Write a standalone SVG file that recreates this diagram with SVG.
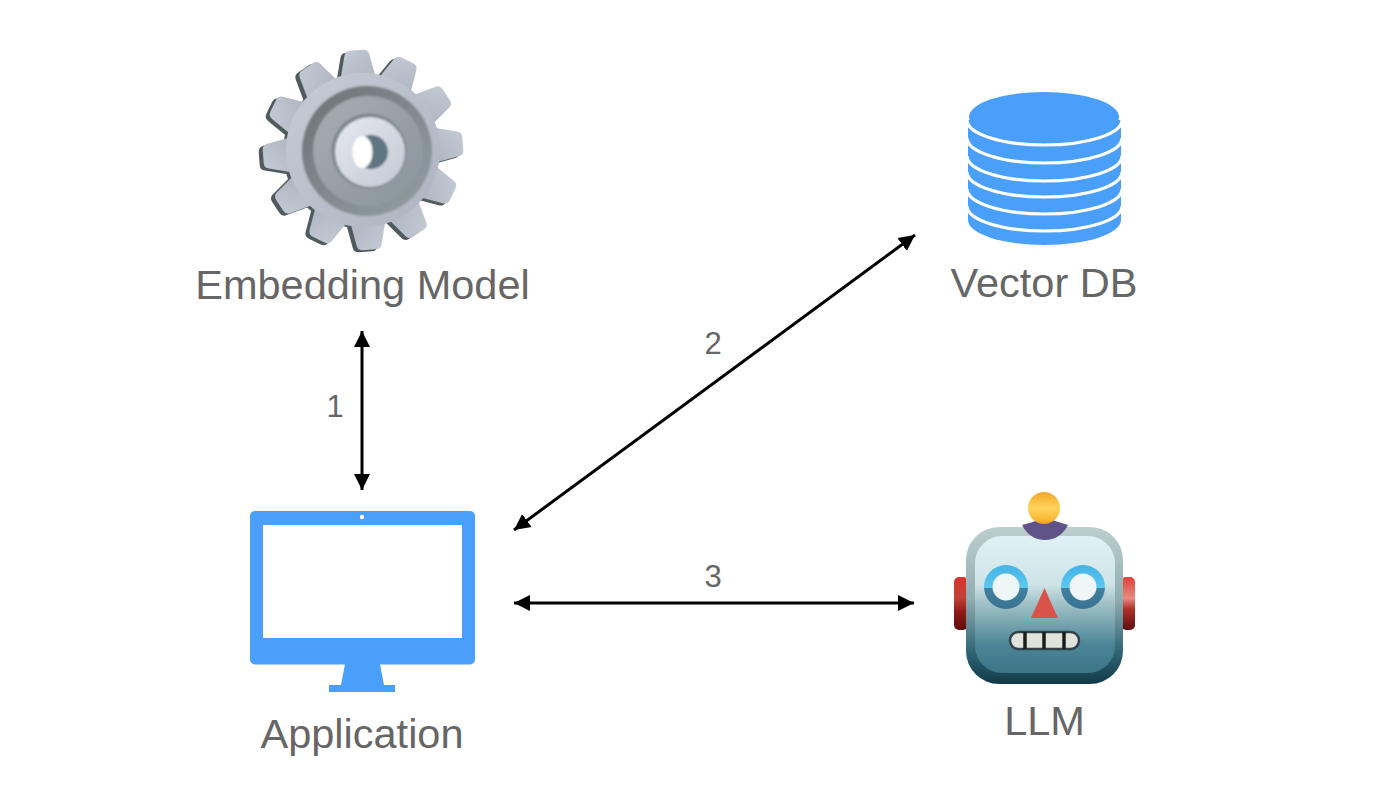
<svg xmlns="http://www.w3.org/2000/svg" width="1400" height="803" viewBox="0 0 1400 803">
<style>
.lbl{font-family:"Liberation Sans",Arial,sans-serif;font-size:41.5px;fill:#666;text-anchor:middle}
.num{font-family:"Liberation Sans",Arial,sans-serif;font-size:31px;fill:#666;text-anchor:middle}
.conn{fill:none;stroke:#000;stroke-width:3;marker-start:url(#ah);marker-end:url(#ah)}
.blue{fill:#4a9ffa}
.band{fill:none;stroke:#fff;stroke-width:3.2}
</style>
<defs>
<marker id="ah" markerUnits="userSpaceOnUse" markerWidth="18" markerHeight="18" refX="16" refY="9" orient="auto-start-reverse"><path d="M0,1L16,9L0,17Z" fill="#000"/></marker>
<path id="tooth" d="M-18,-70L-12,-95Q-11,-100 -6,-100L7,-100Q12,-100 13,-95L18,-70Z"/>
<g id="teeth">
<use href="#tooth" transform="rotate(-94)"/><use href="#tooth" transform="rotate(-64)"/><use href="#tooth" transform="rotate(-34)"/><use href="#tooth" transform="rotate(-4)"/><use href="#tooth" transform="rotate(26)"/><use href="#tooth" transform="rotate(56)"/><use href="#tooth" transform="rotate(86)"/><use href="#tooth" transform="rotate(116)"/><use href="#tooth" transform="rotate(146)"/><use href="#tooth" transform="rotate(176)"/><use href="#tooth" transform="rotate(206)"/><use href="#tooth" transform="rotate(236)"/>
</g>
<linearGradient id="gFace" x1="0" y1="0" x2="1" y2="1"><stop offset="0" stop-color="#c6ccd6"/><stop offset="1" stop-color="#adb4c0"/></linearGradient>
<linearGradient id="gRing" x1="0" y1="0" x2="1" y2="1"><stop offset="0" stop-color="#6a7276"/><stop offset="1" stop-color="#949fa5"/></linearGradient>
<linearGradient id="gRing2" x1="0" y1="0" x2="1" y2="1"><stop offset="0" stop-color="#a8aeb3"/><stop offset="1" stop-color="#88939a"/></linearGradient>
<linearGradient id="gHub" x1="0" y1="0" x2="1" y2="1"><stop offset="0" stop-color="#e6e9ef"/><stop offset="1" stop-color="#c3c9d3"/></linearGradient>
<filter id="soft" x="-10%" y="-10%" width="120%" height="120%"><feGaussianBlur stdDeviation="1.2"/></filter>
<linearGradient id="rHead" x1="0" y1="0" x2="0" y2="1"><stop offset="0" stop-color="#bccfce"/><stop offset="0.45" stop-color="#93aeb0"/><stop offset="0.8" stop-color="#2f6475"/><stop offset="1" stop-color="#123a48"/></linearGradient>
<linearGradient id="rFace" x1="0" y1="0" x2="0" y2="1"><stop offset="0" stop-color="#dff1f4"/><stop offset="0.35" stop-color="#cfe4e7"/><stop offset="0.5" stop-color="#9fc0c6"/><stop offset="0.8" stop-color="#4a8496"/><stop offset="1" stop-color="#3b7586"/></linearGradient>
<linearGradient id="rEar" x1="0" y1="0" x2="0" y2="1"><stop offset="0" stop-color="#d8332b"/><stop offset="0.4" stop-color="#c2423a"/><stop offset="0.65" stop-color="#8f1c16"/><stop offset="1" stop-color="#5e0d0a"/></linearGradient>
<linearGradient id="rEarR" x1="0" y1="0" x2="0" y2="1"><stop offset="0" stop-color="#e0413a"/><stop offset="0.4" stop-color="#e88a80"/><stop offset="0.6" stop-color="#b0312a"/><stop offset="1" stop-color="#5e0d0a"/></linearGradient>
<linearGradient id="rBall" x1="0" y1="0" x2="0" y2="1"><stop offset="0" stop-color="#f3a52c"/><stop offset="0.5" stop-color="#ffd45a"/><stop offset="0.85" stop-color="#fbb93a"/><stop offset="1" stop-color="#ee9a24"/></linearGradient>
<linearGradient id="rEye" x1="0" y1="0" x2="0" y2="1"><stop offset="0" stop-color="#45b3e6"/><stop offset="0.52" stop-color="#5cc8f0"/><stop offset="0.53" stop-color="#3f819f"/><stop offset="1" stop-color="#3a7290"/></linearGradient>
</defs>

<g id="connectors">
<path class="conn" d="M362,331L362,490"/>
<path class="conn" d="M915,235L514,530"/>
<path class="conn" d="M514,603L914,603"/>
<text class="num" x="335" y="417">1</text>
<text class="num" x="713" y="354">2</text>
<text class="num" x="713" y="587">3</text>
</g>

<g id="embedding-model">
<g transform="translate(359,152)" fill="#4f5b5c"><use href="#teeth"/><circle r="76"/></g>
<g transform="translate(363,150)" fill="url(#gFace)"><use href="#teeth"/><circle r="77"/></g>
<g filter="url(#soft)">
<circle cx="367" cy="151" r="65" fill="url(#gRing)"/>
<circle cx="368" cy="151" r="55" fill="url(#gRing2)"/>
<circle cx="369" cy="151" r="37.500" fill="#7c868c"/>
<circle cx="370" cy="152" r="35" fill="url(#gHub)"/>
<ellipse cx="371" cy="152" rx="17" ry="17" fill="#5f7480"/>
<ellipse cx="362.500" cy="152" rx="10" ry="16" fill="#fff"/>
</g>
<text class="lbl" x="362.500" y="299">Embedding Model</text>
</g>

<g id="vector-db">
<path class="blue" d="M968,120L968,220A76.500,25 0 0 0 1121,220L1121,120Z"/>
<path class="band" d="M967,120A77.500,25 0 0 0 1122,120"/>
<path class="band" d="M967,138A77.500,25 0 0 0 1122,138"/>
<path class="band" d="M967,156A77.500,25 0 0 0 1122,156"/>
<path class="band" d="M967,172A77.500,25 0 0 0 1122,172"/>
<path class="band" d="M967,189A77.500,25 0 0 0 1122,189"/>
<path class="band" d="M967,206A77.500,25 0 0 0 1122,206"/>
<ellipse class="blue" cx="1044" cy="117" rx="75" ry="25"/>
<text class="lbl" x="1044" y="297">Vector DB</text>
</g>

<g id="application">
<rect class="blue" x="250" y="511" width="225" height="153.500" rx="5"/>
<rect x="263" y="525" width="199" height="113" fill="#fff"/>
<circle cx="362" cy="517" r="2.200" fill="#fff"/>
<path class="blue" d="M345,664L380,664L384,685L395,685L395,692L329,692L329,685L341,685Z"/>
<text class="lbl" x="362" y="748">Application</text>
</g>

<g id="llm">
<rect x="954" y="577" width="14" height="53" rx="5" fill="url(#rEar)"/>
<rect x="1121" y="577" width="14" height="53" rx="5" fill="url(#rEarR)"/>
<rect x="966" y="527" width="157" height="157" rx="33" fill="url(#rHead)"/>
<rect x="975" y="536" width="140" height="137" rx="27" fill="url(#rFace)"/>
<path d="M1022,525Q1034,522 1038,520L1052,520Q1058,522 1068,525Q1060,540 1045,540Q1030,540 1022,525Z" fill="#5f5389"/>
<circle cx="1044" cy="508" r="16" fill="url(#rBall)"/>
<circle cx="1006" cy="587" r="22" fill="url(#rEye)"/>
<circle cx="1006" cy="587" r="13.500" fill="#eef6f8"/>
<circle cx="1083" cy="587" r="22" fill="url(#rEye)"/>
<circle cx="1083" cy="587" r="13.500" fill="#eef6f8"/>
<path d="M1044.500,588L1058,618L1031,618Z" fill="#d9534b"/>
<rect x="1010" y="632" width="69" height="17" rx="8.500" fill="#dfe3dc" stroke="#33424a" stroke-width="2.500"/>
<path d="M1025,632V649M1044,632V649M1064,632V649" stroke="#1c1c1c" stroke-width="3.500" fill="none"/>
<text class="lbl" x="1044.500" y="735">LLM</text>
</g>
</svg>
